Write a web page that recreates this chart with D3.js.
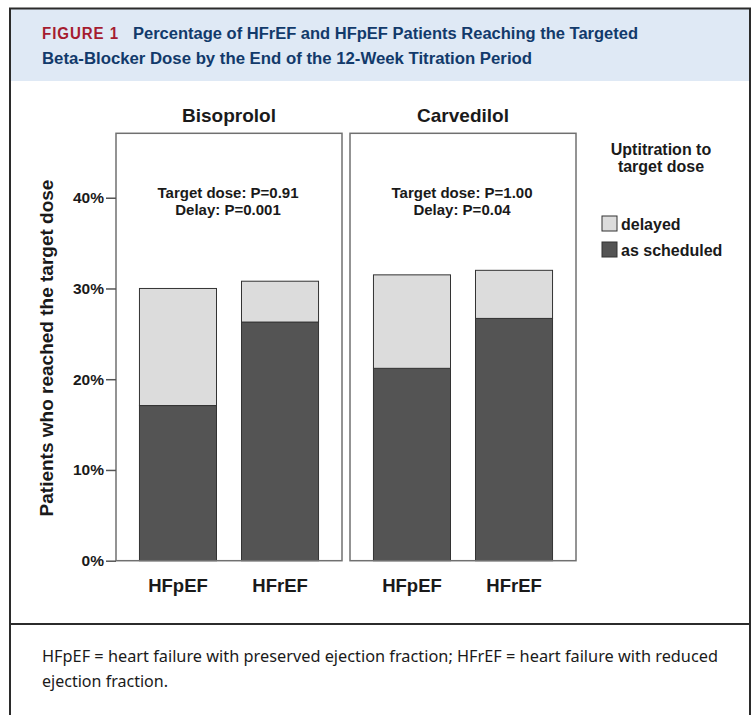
<!DOCTYPE html>
<html lang="en">
<head>
<meta charset="UTF-8" />
<title>Figure 1 - Beta-blocker target dose</title>
<style>
  body { margin: 0; padding: 0; background: #fff; }
  svg { display: block; }
  .chart text { font-family: Arial, "Liberation Sans", sans-serif; font-weight: bold; fill: #1a1a1a; }
</style>
<script src="https://d3js.org/d3.v7.min.js"></script>
</head>
<body>
<svg id="fig" width="755" height="715"></svg>
<script>
// data (percent of patients)
const drugs = ["Bisoprolol", "Carvedilol"];
const groups = ["HFpEF", "HFrEF"];
const asScheduled = [[17.1, 26.3], [21.2, 26.7]];
const delayed = [[12.9, 4.5], [10.3, 5.3]];
const pTarget = ["P=0.91", "P=1.00"];
const pDelay = ["P=0.001", "P=0.04"];
const yTicks = [0, 10, 20, 30, 40];
const legendKeys = ["delayed", "as scheduled"];

const svg = d3.select("#fig");

// outer frame + header band
svg.append("rect").attr("x", 9).attr("y", 9).attr("width", 741).attr("height", 72).attr("fill", "#dfe9f5");
svg.append("path").attr("d", "M10,720 V8.5 H750 V720").attr("fill", "none").attr("stroke", "#2b2b2b").attr("stroke-width", 2);
svg.append("line").attr("x1", 9).attr("x2", 751).attr("y1", 624).attr("y2", 624).attr("stroke", "#2b2b2b").attr("stroke-width", 2);

const head = svg.append("g").style("font-family", "'Liberation Sans Narrow', 'Liberation Sans', Arial, sans-serif").style("font-weight", "bold").style("font-size", "16px");
head.append("text").attr("x", 42).attr("y", 39).attr("fill", "#a51c30")
  .attr("textLength", 77).attr("lengthAdjust", "spacingAndGlyphs").style("letter-spacing", "1px").text("FIGURE 1");
head.append("text").attr("x", 133).attr("y", 39).attr("fill", "#123a6b")
  .attr("textLength", 505).attr("lengthAdjust", "spacingAndGlyphs")
  .text("Percentage of HFrEF and HFpEF Patients Reaching the Targeted");
head.append("text").attr("x", 42).attr("y", 64).attr("fill", "#123a6b")
  .attr("textLength", 490).attr("lengthAdjust", "spacingAndGlyphs")
  .text("Beta-Blocker Dose by the End of the 12-Week Titration Period");

// caption
const cap = svg.append("g").style("font-family", "'Noto Sans', 'Open Sans', sans-serif").style("font-size", "16.5px").attr("fill", "#1a1a1a");
cap.append("text").attr("x", 42).attr("y", 662).attr("textLength", 676).attr("lengthAdjust", "spacingAndGlyphs")
  .text("HFpEF = heart failure with preserved ejection fraction; HFrEF = heart failure with reduced");
cap.append("text").attr("x", 42).attr("y", 687).attr("textLength", 126).attr("lengthAdjust", "spacingAndGlyphs")
  .text("ejection fraction.");

// chart
const chart = svg.append("g").attr("class", "chart");
const y = d3.scaleLinear().domain([0, 47.1]).range([560.7, 133.3]);
const xPanel = d3.scaleBand().domain(drugs).range([116, 576]).paddingInner(8 / 234);
const xBar = d3.scaleBand().domain(groups).range([0, xPanel.bandwidth()]).paddingInner(0.245).paddingOuter(0.23);
const color = { scheduled: "#545454", delayed: "#dcdcdc" };

drugs.forEach((drug, i) => {
  const g = chart.append("g").attr("transform", `translate(${xPanel(drug)},0)`);
  const rows = groups.map((grp, j) => ({ group: grp, scheduled: asScheduled[i][j], delayed: delayed[i][j] }));
  const series = d3.stack().keys(["scheduled", "delayed"])(rows);

  g.selectAll("g.layer").data(series).join("g").attr("class", "layer")
    .attr("fill", d => color[d.key])
    .selectAll("rect").data(d => d).join("rect")
    .attr("x", d => xBar(d.data.group))
    .attr("width", xBar.bandwidth())
    .attr("y", d => y(d[1]))
    .attr("height", d => y(d[0]) - y(d[1]))
    .attr("stroke", "#333").attr("stroke-width", 1);

  // panel frame
  g.append("rect").attr("x", 0).attr("y", y.range()[1]).attr("width", xPanel.bandwidth())
    .attr("height", y.range()[0] - y.range()[1]).attr("fill", "none").attr("stroke", "#707070").attr("stroke-width", 1.5);

  g.append("text").attr("x", xPanel.bandwidth() / 2).attr("y", 122).attr("text-anchor", "middle")
    .style("font-size", "19px").text(drug);

  const cx = xPanel.bandwidth() / 2 - 1;
  g.append("text").attr("x", cx).attr("y", 198).attr("text-anchor", "middle").style("font-size", "15px")
    .text("Target dose: " + pTarget[i]);
  g.append("text").attr("x", cx).attr("y", 215).attr("text-anchor", "middle").style("font-size", "15px")
    .text("Delay: " + pDelay[i]);

  g.append("g").selectAll("text").data(groups).join("text")
    .attr("x", d => xBar(d) + xBar.bandwidth() / 2).attr("y", 592).attr("text-anchor", "middle")
    .style("font-size", "18.5px").text(d => d);
});

// y axis
const yAxis = chart.append("g").attr("transform", "translate(116,0)")
  .call(d3.axisLeft(y).tickValues(yTicks).tickFormat(d => d + "%").tickSize(10).tickPadding(2));
yAxis.select(".domain").remove();
yAxis.selectAll(".tick line").attr("stroke", "#555").attr("stroke-width", 1.5);
yAxis.selectAll(".tick text").style("font-size", "15.5px").style("font-family", "Arial, 'Liberation Sans', sans-serif").attr("fill", "#1a1a1a");

chart.append("text").attr("transform", "translate(53,348) rotate(-90)").attr("text-anchor", "middle")
  .style("font-size", "19px").text("Patients who reached the target dose");

// legend
const leg = chart.append("g");
const lt = leg.append("text").attr("text-anchor", "middle").style("font-size", "16px");
lt.append("tspan").attr("x", 661).attr("y", 155).text("Uptitration to");
lt.append("tspan").attr("x", 661).attr("y", 172).text("target dose");
const legColor = d3.scaleOrdinal().domain(legendKeys).range([color.delayed, color.scheduled]);
const items = leg.selectAll("g.item").data(legendKeys).join("g").attr("class", "item")
  .attr("transform", (d, k) => `translate(602,${216 + k * 26})`);
items.append("rect").attr("width", 15).attr("height", 15).attr("fill", d => legColor(d)).attr("stroke", "#333").attr("stroke-width", 1);
items.append("text").attr("x", 19).attr("y", 14).style("font-size", "16px").text(d => d);
</script>
</body>
</html>
